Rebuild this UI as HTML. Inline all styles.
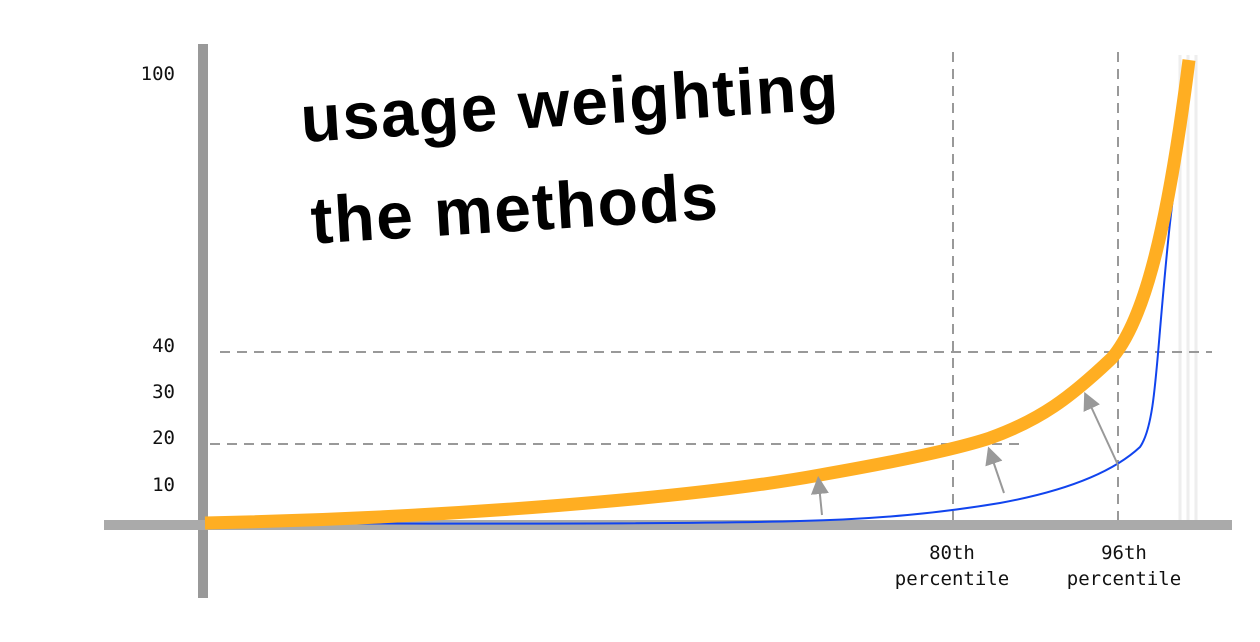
<!DOCTYPE html>
<html><head><style>
html,body{margin:0;padding:0;background:#fff;}
svg{display:block;}
.m{font-family:"DejaVu Sans Mono","Liberation Mono",monospace;font-size:19px;fill:#111;}
</style></head><body>
<svg width="1260" height="642" viewBox="0 0 1260 642" xmlns="http://www.w3.org/2000/svg">
<defs><marker id="ah" viewBox="0 0 10 10" refX="5" refY="5" markerWidth="9" markerHeight="9" markerUnits="userSpaceOnUse" orient="auto"><path d="M0,0 L10,5 L0,10 z" fill="#999"/></marker>
<marker id="ah2" viewBox="0 0 10 10" refX="5" refY="5" markerWidth="18" markerHeight="18" markerUnits="userSpaceOnUse" orient="auto"><path d="M0,0 L10,5 L0,10 z" fill="#999"/></marker></defs>
<g stroke="#eee" stroke-width="3">
<line x1="1180" y1="55" x2="1180" y2="520"/><line x1="1188" y1="55" x2="1188" y2="520"/><line x1="1196" y1="55" x2="1196" y2="520"/>
</g>
<g stroke="#999" stroke-width="2" stroke-dasharray="10,7" fill="none">
<line x1="220" y1="352" x2="1212" y2="352"/>
<line x1="210" y1="444" x2="1022" y2="444"/>
<line x1="953" y1="52" x2="953" y2="525"/>
<line x1="1118" y1="52" x2="1118" y2="525"/>
</g>
<rect x="198" y="44" width="10" height="554" fill="#999"/>
<rect x="104" y="520" width="1128" height="10" fill="#aaa"/>
<path d="M205,523 C450,524 700,524 800,521 C880,519 940,513 1000,503 C1060,492 1110,475 1140,447 C1152,430 1155,390 1160,330 C1166,260 1172,190 1182,140" fill="none" stroke="#1144ee" stroke-width="2"/>
<path d="M205,523 C450,518 700,497 820,475 C900,461 960,448 990,438 C1040,420 1070,398 1112,358 C1140,325 1165,250 1189,60" fill="none" stroke="#ffae22" stroke-width="13"/>
<g stroke="#999" stroke-width="2" marker-end="url(#ah2)">
<line x1="822" y1="515" x2="819" y2="485"/>
<line x1="1004" y1="493" x2="991" y2="455"/>
<line x1="1118" y1="465" x2="1088" y2="400"/>
</g>
<text class="m" x="175" y="80" text-anchor="end">100</text>
<text class="m" x="175" y="352" text-anchor="end">40</text>
<text class="m" x="175" y="398" text-anchor="end">30</text>
<text class="m" x="175" y="444" text-anchor="end">20</text>
<text class="m" x="175" y="491" text-anchor="end">10</text>
<text class="m" x="952" y="559" text-anchor="middle">80th</text>
<text class="m" x="952" y="585" text-anchor="middle">percentile</text>
<text class="m" x="1124" y="559" text-anchor="middle">96th</text>
<text class="m" x="1124" y="585" text-anchor="middle">percentile</text>
<g transform="rotate(-3.5 302 142)" font-family="Liberation Sans, sans-serif" font-weight="bold" font-size="66" fill="#000" letter-spacing="1.5">
<text x="302" y="142">usage weighting</text>
<text x="306" y="244">the methods</text>
</g>
</svg>
</body></html>
